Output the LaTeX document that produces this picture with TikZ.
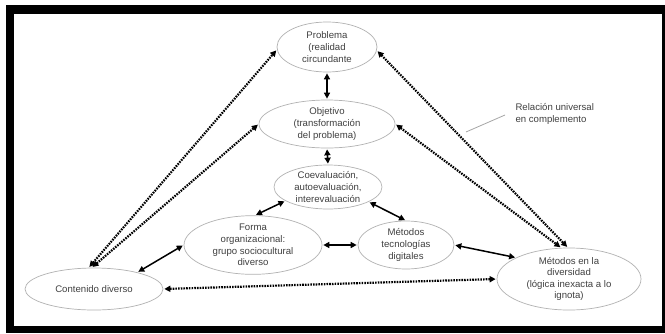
\documentclass[tikz,border=0pt]{standalone}
\usepackage{fontspec}
\setmainfont{Liberation Sans}
\usetikzlibrary{shapes.geometric,arrows.meta,calc}
\begin{document}
\begin{tikzpicture}[x=1pt,y=-1pt,
  every node/.style={font=\fontsize{9.6}{11.6}\selectfont, text=black!75},
  ell/.style={ellipse, draw=black!30, line width=0.7pt, inner sep=0pt, align=center, fill=white},
  solidarr/.style={line width=1.5pt, draw=black, {Triangle[length=6pt,width=6pt]}-{Triangle[length=6pt,width=6pt]}, shorten <=1pt, shorten >=1pt},
  dotarr/.style={line width=2.2pt, draw=black, dash pattern=on 1.6pt off 1.1pt, {Triangle[length=6pt,width=6pt]}-{Triangle[length=6pt,width=6pt]}, shorten <=1pt, shorten >=1pt}
]
\useasboundingbox (0,0) rectangle (665,333);
\fill[white] (0,0) rectangle (665,333);
\fill[black] (6,5) rectangle (665,333);
\fill[white] (14,14) rectangle (662,326);

\node[ell, minimum width=100pt, minimum height=50pt] (prob) at (327,47) {Problema\\(realidad\\circundante};
\node[ell, minimum width=136pt, minimum height=48pt] (obj) at (327,124) {Objetivo\\(transformación\\del problema)};
\node[ell, minimum width=108pt, minimum height=44pt] (coev) at (328,187) {Coevaluación,\\autoevaluación,\\interevaluación};
\node[ell, minimum width=138pt, minimum height=54pt] (forma) at (253,245) {Forma\\organizacional:\\grupo sociocultural\\diverso};
\node[ell, minimum width=96pt, minimum height=48pt] (metec) at (406,245) {Métodos\\tecnologías\\digitales};
\node[ell, minimum width=138pt, minimum height=42pt] (cont) at (94,289) {Contenido diverso};
\node[ell, minimum width=144pt, minimum height=58pt] (metdiv) at (569,279) {Métodos en la\\diversidad\\(lógica inexacta a lo\\ignota)};

\node[anchor=west, align=left] (rel) at (512,114) {Relación universal\\en complemento};
\coordinate (relend) at (466,132);
\draw[black!35, line width=0.8pt] (relend) -- ($(rel.west)+(-7,1)$);

% solid arrows
\draw[solidarr] (prob.south) -- (obj.north);
\draw[solidarr] (obj.south) -- (coev.north);
\draw[solidarr] (coev.198) -- (forma.86);
\draw[solidarr] (coev.-20) -- (metec.90);
\draw[solidarr] (forma.0) -- (metec.180);
\draw[solidarr] (metec.0) -- (metdiv.158);
\draw[solidarr] (forma.180) -- (cont.21);

% dotted arrows
\draw[dotarr] (cont.104) -- (prob.183);
\draw[dotarr] (cont.96) -- (obj.180);
\draw[dotarr] (prob.-4) -- (metdiv.92);
\draw[dotarr] (obj.0) -- (metdiv.104);
\draw[dotarr] (cont.0) -- (metdiv.180);
\end{tikzpicture}
\end{document}
